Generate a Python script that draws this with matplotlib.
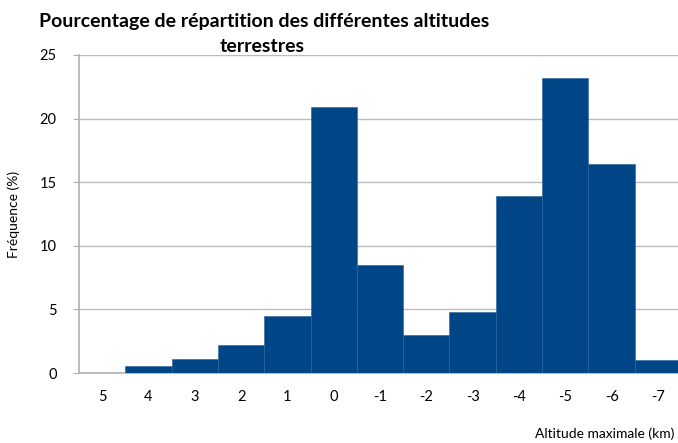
import matplotlib.pyplot as plt

altitudes = ["5", "4", "3", "2", "1", "0", "-1", "-2", "-3", "-4", "-5", "-6", "-7"]
frequences = [0, 0.55, 1.1, 2.2, 4.5, 20.9, 8.5, 3.0, 4.8, 13.9, 23.2, 16.4, 1.0]

plt.rcParams["font.family"] = ["Lato", "DejaVu Sans"]

fig = plt.figure(figsize=(6.78, 4.43), dpi=100)
ax = fig.add_axes([0.1165, 0.158, 0.888, 0.718])

pos = range(len(altitudes))
ax.bar(pos, frequences, width=1.0, color="#004687", edgecolor="#2a6098", linewidth=0.4, zorder=3)

ax.set_xlim(-0.5, len(altitudes) - 0.5)
ax.set_ylim(0, 25)
ax.set_yticks([0, 5, 10, 15, 20, 25])
ax.set_xticks(list(pos))
ax.set_xticklabels(altitudes)
ax.tick_params(axis="x", length=0, pad=12, labelsize=10.5)
ax.tick_params(axis="y", length=4, color="#b0b0b0", pad=12, labelsize=10.5)
ax.grid(axis="y", color="#bdbdbd", linewidth=1, zorder=0)

for s in ["top", "right"]:
    ax.spines[s].set_visible(False)
for s in ["left", "bottom"]:
    ax.spines[s].set_color("#b0b0b0")
    ax.spines[s].set_linewidth(1.2)

ax.set_ylabel("Fréquence (%)", fontsize=10, labelpad=14)
fig.text(0.995, 0.006, "Altitude maximale (km)", ha="right", va="bottom", fontsize=10)

# title on two separate lines, as in the original
fig.text(0.389, 1 - 22 / 443, "Pourcentage de répartition des différentes altitudes",
         ha="center", va="center", fontsize=14, fontweight="bold")
fig.text(0.386, 1 - 46 / 443, "terrestres",
         ha="center", va="center", fontsize=14, fontweight="bold")

plt.savefig("out.png", dpi=100)
